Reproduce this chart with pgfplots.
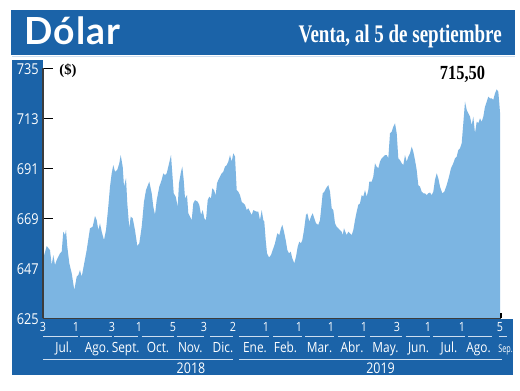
\documentclass[border=0pt]{standalone}
\usepackage{fontspec}
\usepackage{pgfplots}
\pgfplotsset{compat=1.18}
\setmainfont{Liberation Serif}
\newfontfamily\cond[FakeStretch=0.85]{Open Sans}
\newfontfamily\titlefont[LetterSpace=3]{Lato}
\newfontfamily\serifcond[FakeStretch=0.82]{Liberation Serif}
\newfontfamily\subfont[FakeStretch=0.75]{Liberation Serif}
\definecolor{bandblue}{RGB}{27,99,168}
\definecolor{fillblue}{RGB}{124,181,226}
\definecolor{axisgray}{RGB}{60,60,60}
\definecolor{paleline}{RGB}{205,222,240}
\begin{document}
\begin{tikzpicture}[x=0.75pt,y=0.75pt]
\path[use as bounding box] (0,0) rectangle (520,390);
\fill[white] (0,0) rectangle (520,390);
% header band
\fill[bandblue] (11,335) rectangle (515,380);
\draw[paleline, line width=0.75pt] (12,333) -- (515,333);
% left and bottom bands
\fill[bandblue] (12,15) rectangle (43,330);
\fill[bandblue] (12,15) rectangle (512.7,71);
\node[anchor=base west, inner sep=0pt, text=white] at (24,345) {\titlefont\bfseries\fontsize{28}{30}\selectfont Dólar};
\node[anchor=base east, inner sep=0pt, text=white] at (502,347) {\subfont\bfseries\fontsize{19}{21}\selectfont Venta, al 5 de septiembre};
\begin{axis}[
  at={(32.25pt,53.775pt)}, anchor=south west,
  scale only axis, width=343.5pt, height=187.5pt,
  xmin=43, xmax=501, ymin=625, ymax=735,
  axis x line*=bottom, axis y line*=left,
  axis line style={draw=axisgray, line width=1pt},
  ytick={625,647,669,691,713,735},
  ytick pos=left,
  tick align=inside,
  major tick length=7.5pt,
  y tick style={draw=black, line width=1pt},
  xtick={43,76,112,139,173,204,233,266,299,331,364,397,428,462,500},
  xticklabels={3,1,3,1,5,3,2,1,1,1,1,3,1,1,5},
  x tick style={draw=none},
  xticklabel style={font=\cond\fontsize{9.5}{10}\selectfont, text=white, anchor=base, inner sep=0pt, yshift=-10pt},
  yticklabel style={font=\cond\fontsize{11.25}{12}\selectfont, text=white, anchor=east, inner sep=0pt, xshift=-3pt, yshift=-1pt},
  /pgf/number format/assume math mode=true,
  /pgf/number format/1000 sep={},
]
\addplot[fill=fillblue, draw=none] coordinates {
(43,651.0) (43.3,651.4) (46.7,656.8) (50,655.0) (51.7,648.4) (53.3,652.8) (55,648.4) (56.7,650.6)
(58.3,652.1) (60,653.6) (61.7,654.3) (63.3,663.1) (65,661.6) (66,663.8) (67.3,656.5) (69.3,649.2)
(71.7,644.8) (74.3,637.4) (76.7,643.3) (78.3,644.0) (80,646.2) (81.7,643.3) (83.3,647.0) (86.7,655.0)
(90,664.6) (92.7,665.3) (95,670.0) (96.7,668.2) (98.3,663.8) (100,666.8) (101.7,663.1) (104,659.4)
(106,663.8) (108.3,674.1) (110,682.9) (111.7,688.8) (113.3,692.4) (115,689.5) (117.3,690.3) (119.3,693.2)
(120.7,696.8) (122.7,691.7) (124,682.9) (126,686.6) (127.3,675.6) (129.3,664.6) (130.7,669.7) (132.7,669.0)
(135,663.8) (137.3,656.8) (139.3,658.0) (141.7,665.3) (144,676.3) (146,681.4) (147.3,682.9) (149.3,685.1)
(151.7,680.0) (153.3,674.1) (155,670.5) (156.7,677.0) (159.3,682.9) (161.7,685.9) (163.3,688.8) (165,688.0)
(166.7,688.8) (168.3,691.7) (171,696.8) (172.3,688.8) (173.7,680.0) (175.7,678.5) (177.7,674.1) (179,684.4)
(181,689.5) (182.3,691.7) (183.7,685.9) (185,677.8) (187,679.2) (188.3,671.2) (190,669.7) (191.7,668.2)
(193.3,675.6) (195,677.0) (197.7,676.3) (199.3,674.9) (201,670.5) (202.7,672.6) (204.3,669.0) (206,668.2)
(207.7,677.0) (209.3,678.5) (211,677.8) (212.3,682.2) (214,681.4) (215.7,679.2) (217,684.4) (218.3,685.9)
(220,687.3) (221.7,688.8) (223.3,689.5) (225,691.7) (226.7,692.4) (228.3,693.9) (230,696.8) (231.7,693.9)
(233.3,697.6) (235,696.1) (236.7,681.4) (238.3,680.7) (240,679.2) (241.7,676.3) (243.3,675.6) (245,674.9)
(246.7,672.6) (248.3,673.4) (250,671.9) (251.7,670.5) (253.3,672.6) (256.7,671.9) (258.3,671.9) (260,668.2)
(261.7,672.6) (263.3,668.2) (264.3,667.5) (265.7,659.4) (267,653.6) (269,651.8) (271,652.8) (272.7,655.0)
(275,658.0) (277.3,662.4) (279.3,661.6) (281,664.6) (282.3,666.1) (284,663.1) (285.7,659.4) (287.3,655.1)
(289,653.6) (290.7,654.3) (292.3,651.4) (294.3,649.2) (296,652.1) (297.7,656.5) (299.3,658.7) (301,658.0)
(302.3,659.4) (304,663.8) (306,670.5) (307.3,671.2) (309.3,667.5) (311,669.7) (312.7,671.2) (314.3,669.0)
(316,666.8) (318.3,666.1) (320,668.2) (321.7,675.6) (322.7,680.0) (324.3,680.7) (326,682.2) (328.3,683.6)
(330,680.7) (331.7,673.4) (333.3,672.6) (335,666.8) (336.7,665.3) (338.3,664.6) (340,663.8) (341.7,663.1)
(342.7,661.6) (344,664.6) (345.3,663.1) (346.7,661.6) (348.3,663.1) (350,662.4) (351.7,661.6) (353.3,663.8)
(355,668.2) (356.7,671.9) (358.3,674.9) (360,675.6) (361.7,679.2) (363.3,678.5) (365,681.4) (366.7,678.5)
(368.3,681.4) (369.3,685.1) (371.7,685.1) (373.3,687.3) (375,693.2) (376.7,691.7) (378.3,691.0) (380,693.9)
(381.7,695.4) (383.3,696.1) (385,696.8) (386.7,696.8) (388.3,695.4) (390,706.4) (391.7,707.1) (393.3,709.3)
(395,710.8) (396.7,706.4) (398.3,695.4) (400,694.6) (401.7,693.2) (403.3,692.4) (405,696.8) (406.7,693.9)
(408.3,696.1) (410,697.6) (411.7,700.5) (413.3,698.3) (415,694.6) (416.7,690.2) (418.3,683.6) (420,682.9)
(421.7,680.7) (423.3,680.0) (425,680.0) (426.7,679.2) (428.3,680.0) (430,680.3) (431.7,679.2) (433.3,680.7)
(435,685.9) (436.7,688.8) (438.3,686.6) (440,682.9) (442.3,680.0) (444.3,680.7) (446.7,683.6) (449,687.3)
(451,691.0) (453.3,693.2) (455,695.4) (456.7,696.1) (458.3,699.0) (460,699.8) (461.7,702.0) (463.3,710.8)
(465,720.3) (466.7,716.7) (468.3,715.2) (470,713.7) (471.7,710.0) (473.3,713.7) (475,706.4) (476.7,711.5)
(478.3,710.8) (480,713.0) (481.7,711.5) (483.3,713.7) (485,718.1) (486.7,720.3) (488.3,722.5) (490,721.8)
(491.7,721.8) (493.3,721.1) (495,724.0) (496.7,725.7) (498.3,724.7) (499.3,719.6) (500,715.5)
} \closedcycle;
\end{axis}
% redraw axis lines on top of fill
\draw[axisgray, line width=1pt] (43,71.7) -- (43,321.7);
\draw[axisgray, line width=1pt] (43,71.7) -- (501,71.7);
\draw[black, line width=1pt] (501,71.7) -- (501,76.7);
% labels
\node[inner sep=0pt, font=\bfseries\fontsize{11}{12}\selectfont] at (68,319.5) {(\$)};
\node[anchor=base, inner sep=0pt, font=\serifcond\bfseries\fontsize{15}{17}\selectfont] at (462.5,310.5) {715,50};
% underline segments
\begin{scope}[paleline, line width=0.75pt]
\foreach \a/\b in {43/77.7, 80/112, 114.3/137.7, 141.7/174, 176.7/204.3, 210/233.3, 239.3/269.3, 273.3/301.7, 305/334, 338.3/365, 370/401.7, 405.7/430, 433.3/465, 468.3/492.3, 499.3/506.7}
  \draw (\a,54) -- (\b,54);
\draw (43,31) -- (233.3,31);
\draw (239.3,31) -- (502,31);
\end{scope}
\foreach \x/\m in {63.7/Jul., 97/Ago., 125.7/Sept., 158/Oct., 190.3/Nov., 223/Dic., 255/Ene., 285.5/Feb., 319.5/Mar., 352/Abr., 385.5/May., 418.5/Jun., 449/Jul., 478.5/Ago.}
  \node[anchor=base, inner sep=0pt, text=white, font=\cond\fontsize{10.5}{11}\selectfont] at (\x,37.3) {\m};
\node[anchor=base, inner sep=0pt, text=white, font=\cond\fontsize{8}{9}\selectfont] at (505.5,37.3) {\scalebox{0.8}[1]{Sep.}};
\node[anchor=base, inner sep=0pt, text=white, font=\cond\fontsize{11}{12}\selectfont] at (191,16.7) {2018};
\node[anchor=base, inner sep=0pt, text=white, font=\cond\fontsize{11}{12}\selectfont] at (380.5,16.7) {2019};
\end{tikzpicture}
\end{document}
